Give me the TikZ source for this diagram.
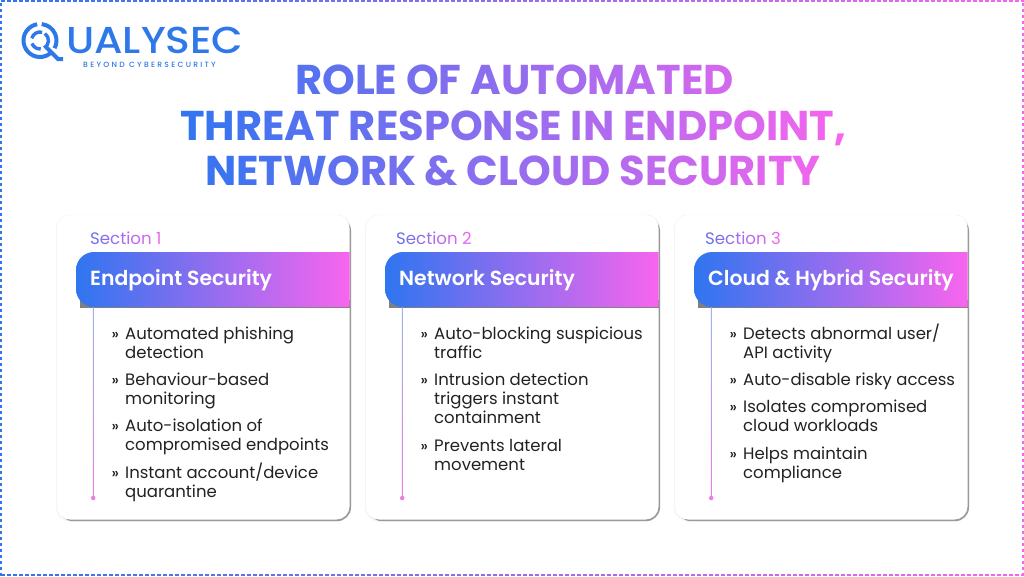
\documentclass[tikz,border=0pt]{standalone}
\usepackage{fontspec}
\usetikzlibrary{calc}
\setmainfont{Poppins}
\newfontfamily\pmed{Poppins Medium}
\newfontfamily\psemi{Poppins SemiBold}
\newfontfamily\pbold{Poppins}[UprightFont=*-Bold]
\definecolor{gblue}{HTML}{2F75F0}
\definecolor{gpink}{HTML}{F865EE}
\definecolor{linetop}{HTML}{9DB4EC}
\definecolor{linebot}{HTML}{E77FE4}
\definecolor{ink}{HTML}{222222}
\definecolor{logoblue}{HTML}{2F78EA}
\newdimen\gpos
\def\gxa{180}\def\gxb{845}
\makeatletter
\def\gw#1{\@tfor\gl:=#1\do{\setbox0\hbox{\gl}%
  \pgfmathsetmacro\gf{min(100,max(0,(\the\gpos/1pt+0.5*\the\wd0/1pt-\gxa)/(\gxb-\gxa)*100))}%
  \textcolor{gpink!\gf!gblue}{\copy0}\global\advance\gpos by \wd0 }}
\def\gs{\setbox0\hbox{\ }\hskip\wd0 \global\advance\gpos by \wd0 }
\makeatother
\tikzset{
  x=1pt,y=1pt,
  titletext/.style={anchor=base west,inner sep=0pt,font=\pbold\fontsize{41.6}{42}\selectfont},
  sectext/.style={anchor=base west,inner sep=0pt,font=\fontsize{16.6}{18}\selectfont},
  headtext/.style={anchor=base west,inner sep=0pt,text=white,font=\psemi\fontsize{20.4}{22}\selectfont},
  itemtext/.style={anchor=base west,inner sep=0pt,text=ink,font=\fontsize{16.5}{19.3}\selectfont},
  marktext/.style={anchor=base west,inner sep=0pt,text=ink,font=\pmed\fontsize{15}{15}\selectfont},
  enddot/.style={circle,fill=linebot,inner sep=0pt,minimum size=4.5pt},
  logoarc/.style={draw=logoblue,line width=4pt},
  logoinner/.style={draw=logoblue,line width=3.4pt},
}
\newcommand{\cardbox}[5]{% id, x, section number, header, unused
  \begin{scope}[xshift=#2]
    \fill[black!4,rounded corners=14] (56,-214.5) rectangle (351,-521.5);
    \fill[black!40,rounded corners=14] (59,-217) rectangle (351,-521.2);
    \fill[white,rounded corners=13] (57,-215) rectangle (349.5,-519.5);
    \fill[black!50] (80,-300) rectangle (349.5,-308.3);
    \shade[left color=gblue,right color=gpink]
      (349.5,-252) [rounded corners=18] -- (76,-252) -- (76,-307) [sharp corners] -- (349.5,-307) -- cycle;
    \node[headtext] (#1head) at (90,-285) {#4};
    \coordinate (#1top) at (93.2,-307.5);
    \coordinate (#1end) at (93.2,-498);
    \shade[top color=linetop,bottom color=linebot] ($(#1top)+(-0.45,0)$) rectangle ($(#1end)+(0.45,0)$);
    \node[enddot] (#1dot) at (#1end) {};
  \end{scope}
}
\newcommand{\itemat}[4]{% id, x, baseline, text
  \node[marktext] (#1m) at (#2-13.5,-#3) {»};
  \node[itemtext] (#1) at (#2,-#3) {\vtop{\hsize=280pt\raggedright\leavevmode #4}};
}
\begin{document}
\begin{tikzpicture}
\useasboundingbox (0,-576) rectangle (1024,0);
\fill[white] (0,-576) rectangle (1024,0);
% dashed frame
\foreach \p in {0,6,...,1020}{
  \pgfmathsetmacro\m{\p/10.24}
  \draw[color=gpink!\m!gblue,line width=1.6pt] (\p+1,-0.9) -- (\p+4.6,-0.9);
  \draw[color=gpink!\m!gblue,line width=1.6pt] (\p+1,-575) -- (\p+4.6,-575);
}
\foreach \p in {3,9,...,573}{
  \draw[color=gblue,line width=1.6pt] (1,-\p) -- (1,-\p-3.4);
  \draw[color=gpink,line width=1.6pt] (1022.9,-\p) -- (1022.9,-\p-3.4);
}
% logo
\coordinate (qc) at (40,-40.5);
\draw[logoarc] (qc) ++(100:16.5) arc[start angle=100,end angle=310,radius=16.5];
\draw[logoarc] (qc) ++(84:16.5) arc[start angle=84,end angle=-28,radius=16.5];
\draw[logoinner] (qc) ++(165:8.5) arc[start angle=165,end angle=75,radius=8.5];
\draw[logoinner] (qc) ++(55:8.5) arc[start angle=55,end angle=-60,radius=8.5];
\draw[logoinner] (qc) ++(200:8.5) arc[start angle=200,end angle=275,radius=8.5];
\draw[logoarc] (46,-47) -- (49,-50) -- (58,-59) -- (63,-59);
\node[anchor=base west,inner sep=0pt,text depth=0pt,text=logoblue,font=\pmed\fontsize{37.5}{40}\selectfont] (logotext) at (66,-53) {\scalebox{1.09}[1]{UALYSEC}};
\node[anchor=base west,inner sep=0pt,text height=6pt,text=logoblue,font=\pmed\addfontfeatures{LetterSpace=30}\fontsize{7.6}{9}\selectfont] (logotag) at (83,-67) {BEYOND CYBERSECURITY};
% title
\gpos=295pt
\node[titletext] (t1) at (295,-94.5) {\gw{ROLE}\gs\gw{OF}\gs\gw{AUTOMATED}};
\gpos=180pt
\node[titletext] (t2) at (180,-140) {\gw{THREAT}\gs\gw{RESPONSE}\gs\gw{IN}\gs\gw{ENDPOINT,}};
\gpos=205pt
\node[titletext] (t3) at (205,-185) {\gw{NETWORK}\gs\gw{\&}\gs\gw{CLOUD}\gs\gw{SECURITY}};
% cards
\cardbox{a}{0}{1}{Endpoint Security}{}
\cardbox{b}{309}{2}{Network Security}{}
\cardbox{c}{618}{3}{Cloud \& Hybrid Security}{}
\def\gxa{60}\def\gxb{165}
\gpos=90pt
\node[sectext] (as) at (90,-244.5) {\gw{Section}\gs\gw{1}};
\def\gxa{369}\def\gxb{474}
\gpos=396pt
\node[sectext] (bs) at (396,-244.5) {\gw{Section}\gs\gw{2}};
\def\gxa{678}\def\gxb{783}
\gpos=705pt
\node[sectext] (cs) at (705,-244.5) {\gw{Section}\gs\gw{3}};
% items
\itemat{a1}{125}{339}{Automated phishing\\detection}
\itemat{a2}{125}{385}{Behaviour-based\\monitoring}
\itemat{a3}{125}{431}{Auto-isolation of\\compromised endpoints}
\itemat{a4}{125}{478}{Instant account/device\\quarantine}
\itemat{b1}{434}{339}{Auto-blocking suspicious\\traffic}
\itemat{b2}{434}{385}{Intrusion detection\\triggers instant\\containment}
\itemat{b3}{434}{451}{Prevents lateral\\movement}
\itemat{c1}{743}{339}{Detects abnormal user/\\API activity}
\itemat{c2}{743}{385}{Auto-disable risky access}
\itemat{c3}{743}{412}{Isolates compromised\\cloud workloads}
\itemat{c4}{743}{459}{Helps maintain\\compliance}
\end{tikzpicture}
\end{document}
